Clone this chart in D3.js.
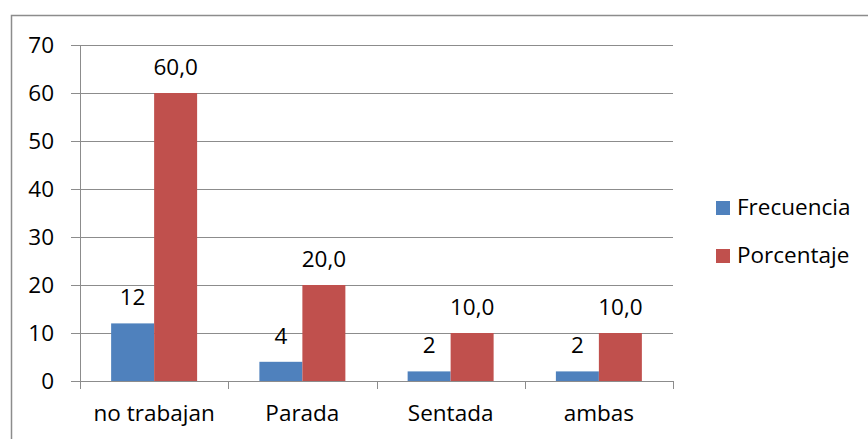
<!DOCTYPE html>
<html><head><meta charset="utf-8">
<script src="https://cdn.jsdelivr.net/npm/d3@7"></script>
<style>body{margin:0;background:#fff}svg{display:block}text{font-family:"Open Sans","Noto Sans",sans-serif}</style>
</head><body>
<svg id="c" width="868" height="439"></svg>
<script>
const categories = ["no trabajan", "Parada", "Sentada", "ambas"];
const seriesNames = ["Frecuencia", "Porcentaje"];
const frecuencia = [12, 4, 2, 2];
const porcentaje = [60.0, 20.0, 10.0, 10.0];
const yTicks = [0, 10, 20, 30, 40, 50, 60, 70];
const colors = ["#4F81BD", "#C0504D"];

const svg = d3.select("#c");
const L = 80, R = 673, T = 45, B = 381;
const FS = 22.5;

svg.append("rect").attr("x", 11.5).attr("y", 15.5).attr("width", 900).attr("height", 500)
  .attr("fill", "none").attr("stroke", "#8c8c8c").attr("stroke-width", 1.5);

const x = d3.scaleBand().domain(categories).range([L, R]).paddingInner(0.42).paddingOuter(0.21);
const xs = d3.scaleBand().domain(seriesNames).range([0, x.bandwidth()]);
const y = d3.scaleLinear().domain([0, 70]).range([B, T]);

svg.append("g").selectAll("line").data(yTicks).join("line")
  .attr("x1", L - 9).attr("x2", R).attr("y1", d => Math.round(y(d)) + 0.5).attr("y2", d => Math.round(y(d)) + 0.5)
  .attr("stroke", "#8c8c8c").attr("stroke-width", 1);

svg.append("line").attr("x1", L + 0.5).attr("x2", L + 0.5).attr("y1", T).attr("y2", B)
  .attr("stroke", "#8c8c8c");

svg.append("g").selectAll("text").data(yTicks).join("text")
  .attr("x", L - 26).attr("y", d => y(d)).attr("dy", "0.35em").attr("text-anchor", "end")
  .attr("font-size", FS).attr("fill", "#000").text(d => d);

const data = [frecuencia, porcentaje];
const labelFmt = [d => String(d), d => d.toFixed(1).replace(".", ",")];

seriesNames.forEach((s, si) => {
  const g = svg.append("g");
  g.selectAll("rect").data(categories).join("rect")
    .attr("x", c => x(c) + xs(s)).attr("width", xs.bandwidth())
    .attr("y", (c, i) => y(data[si][i])).attr("height", (c, i) => y(0) - y(data[si][i]))
    .attr("fill", colors[si]);
  g.selectAll("text").data(categories).join("text")
    .attr("x", c => x(c) + xs(s) + xs.bandwidth() / 2)
    .attr("y", (c, i) => y(data[si][i]) - 18)
    .attr("text-anchor", "middle").attr("font-size", FS).attr("fill", "#000")
    .text((c, i) => labelFmt[si](data[si][i]));
});

svg.append("line").attr("x1", L).attr("x2", R).attr("y1", B + 0.5).attr("y2", B + 0.5).attr("stroke", "#8c8c8c");
const bounds = categories.map(c => x(c) - x.step() * x.paddingInner() / 2).concat([R]);
svg.append("g").selectAll("line").data(bounds).join("line")
  .attr("x1", d => Math.round(d) + 0.5).attr("x2", d => Math.round(d) + 0.5)
  .attr("y1", B).attr("y2", B + 8).attr("stroke", "#8c8c8c");

svg.append("g").selectAll("text").data(categories).join("text")
  .attr("x", c => x(c) + x.bandwidth() / 2).attr("y", 421)
  .attr("text-anchor", "middle").attr("font-size", FS).attr("fill", "#000").text(c => c);

const lg = svg.append("g");
seriesNames.forEach((s, i) => {
  lg.append("rect").attr("x", 716).attr("y", 201 + i * 48).attr("width", 14).attr("height", 14).attr("fill", colors[i]);
  lg.append("text").attr("x", 737).attr("y", 215 + i * 48).attr("font-size", FS).attr("fill", "#000").text(s);
});
</script>
</body></html>
